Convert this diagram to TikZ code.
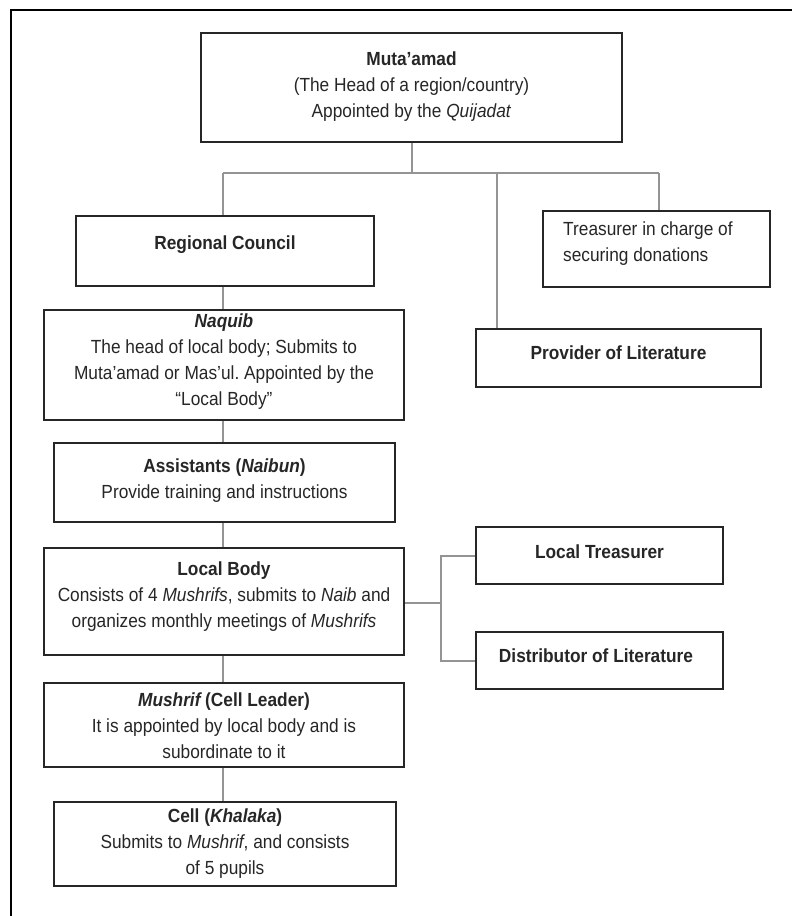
\documentclass[tikz,border=0pt]{standalone}
\usepackage{fontspec}
\setmainfont{Liberation Sans}[FakeStretch=0.91]
\frenchspacing
\begin{document}
\begin{tikzpicture}[x=1pt,y=-1pt,
  box/.style={draw=black!85,line width=1.6pt,rectangle,inner sep=0pt},
  txt/.style={align=center,inner sep=0pt,font=\fontsize{19}{26}\selectfont,text=black!85},
  conn/.style={draw=black!42,line width=2pt},
  frame/.style={draw=black,line width=1.5pt}]
\useasboundingbox (0,0) rectangle (792,916);
% frame
\coordinate (fTL) at (11,10);
\coordinate (fTR) at (792,10);
\coordinate (fBL) at (11,916);
\draw[frame] (fBL) -- (fTL) -- (fTR);

% boxes
\node[box,minimum width=421,minimum height=109] (mut) at (411.5,87.5) {};
\node[txt] (mutT) at (411.5,87) {\textbf{Muta’amad}\\(The Head of a region/country)\\Appointed by the \textit{Quijadat}};

\node[box,minimum width=298,minimum height=70] (rc) at (225,251) {};
\node[txt] (rcT) at (225,245) {\textbf{Regional Council}};

\node[box,minimum width=227,minimum height=76] (tre) at (656.5,249) {};
\node[txt,align=left,anchor=west] (treT) at (563,243.5) {Treasurer in charge of\\securing donations};

\node[box,minimum width=285,minimum height=58] (prov) at (618.5,358) {};
\node[txt] (provT) at (618.5,353) {\textbf{Provider of Literature}};

\node[box,minimum width=360,minimum height=110] (naq) at (224,365) {};
\node[txt] (naqT) at (224,361.5) {\textbf{\textit{Naquib}}\\The head of local body; Submits to\\Muta’amad or Mas’ul. Appointed by the\\“Local Body”};

\node[box,minimum width=341,minimum height=79] (ast) at (224.5,482.5) {};
\node[txt] (astT) at (224.5,481) {\textbf{Assistants (\textit{Naibun})}\\Provide training and instructions};

\node[box,minimum width=360,minimum height=107] (lb) at (224,601.5) {};
\node[txt] (lbT) at (224,596.5) {\textbf{Local Body}\\Consists of 4 \textit{Mushrifs}, submits to \textit{Naib} and\\organizes monthly meetings of \textit{Mushrifs}};

\node[box,minimum width=247,minimum height=57] (lt) at (599.5,555.5) {};
\node[txt] (ltT) at (599.5,552) {\textbf{Local Treasurer}};

\node[box,minimum width=247,minimum height=57] (dl) at (599.5,660.5) {};
\node[txt] (dlT) at (596,656) {\textbf{Distributor of Literature}};

\node[box,minimum width=360,minimum height=84] (mus) at (224,725) {};
\node[txt] (musT) at (224,726) {\textbf{\textit{Mushrif}\,(Cell Leader)}\\It is appointed by local body and is\\subordinate to it};

\node[box,minimum width=342,minimum height=84] (cell) at (225,844) {};
\node[txt] (cellT) at (225,843.5) {\textbf{Cell (\textit{Khalaka})}\\Submits to \textit{Mushrif}, and consists\\of 5 pupils};

% connectors
\coordinate (barL) at (223,173);
\coordinate (barM) at (497,173);
\coordinate (barR) at (659,173);
\coordinate (jn) at (441,603);
\draw[conn] (mut.south) -- (mut.south |- barL);
\draw[conn] (barL) -- (barR);
\draw[conn] (barL) -- (barL |- rc.north);
\draw[conn] (barM) -- (barM |- prov.north);
\draw[conn] (barR) -- (barR |- tre.north);
\draw[conn] (barL |- rc.south) -- (barL |- naq.north);
\draw[conn] (barL |- naq.south) -- (barL |- ast.north);
\draw[conn] (barL |- ast.south) -- (barL |- lb.north);
\draw[conn] (barL |- lb.south) -- (barL |- mus.north);
\draw[conn] (barL |- mus.south) -- (barL |- cell.north);
\draw[conn] (lb.east |- jn) -- (jn);
\draw[conn] (lt.west) -- (jn |- lt.west) -- (jn |- dl.west) -- (dl.west);
\end{tikzpicture}
\end{document}
